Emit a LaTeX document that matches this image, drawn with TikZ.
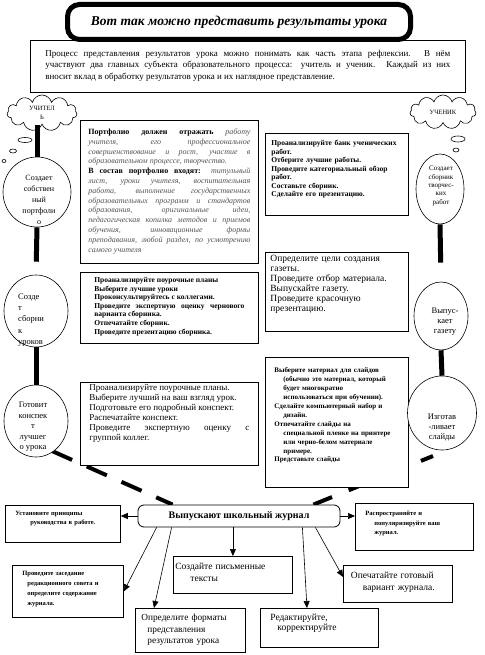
\documentclass[tikz,border=0pt]{standalone}
\usepackage{fontspec}
\setmainfont{Liberation Serif}
\usepackage{tikz}
\usetikzlibrary{shapes.geometric,shapes.symbols,arrows.meta,backgrounds,calc}
\definecolor{portgray}{HTML}{555555}
\setlength\parindent{0pt}
\tolerance=9999 \hbadness=10000 \hfuzz=30pt
\newcommand\fsz[2]{\fontsize{#1}{#2}\selectfont}
\newcommand\hind{\hspace*{9pt}}
\tikzset{
  tbox/.style={draw, line width=0.8pt, fill=white, anchor=north west, inner ysep=0pt},
  circ/.style={draw, ellipse, line width=0.6pt, fill=white, inner sep=0pt},
  ctxt/.style={align=center, inner sep=0pt},
  puff/.style={draw, ellipse, line width=0.6pt, inner sep=0pt},
  thinkcloud/.style={draw, cloud, cloud puffs=11, cloud ignores aspect, line width=0.6pt,
    fill=white, inner sep=0pt, align=center, font=\fsz{6.5}{8.5}},
  thickbar/.style={line width=5pt},
  gapline/.style={line width=4pt},
  arr/.style={line width=0.6pt, -{Triangle[length=7pt,width=6pt]}},
}

\begin{document}
\begin{tikzpicture}[x=1pt,y=-1pt]
\useasboundingbox (0,0) rectangle (484,655);

% heading
\node[tbox, text width=405pt, inner xsep=15pt, text height=16pt, text depth=36pt,
  align=justify, font=\fsz{9}{11.5}] (intro) at (30,40)
  {Процесс представления результатов урока можно понимать как часть этапа рефлексии. В нём\linebreak
   участвуют два главных субъекта образовательного процесса: учитель и ученик. Каждый из них\linebreak
   вносит вклад в обработку результатов урока и их наглядное представление.};
\node[draw, line width=5pt, rounded corners=12pt, fill=white, minimum width=343pt,
  minimum height=35pt, font=\bfseries\itshape\fsz{13.5}{15}] (title) at (239,22)
  {Вот так можно представить результаты урока};

% teacher side
\node[tbox, text width=162pt, inner xsep=8pt, text height=14pt, text depth=129pt,
  align=justify, font=\fsz{8}{9.8}] (port) at (80,120)
  {\textbf{Портфолио должен отражать} {\itshape\color{portgray}работу\linebreak
   учителя, его профессиональное\linebreak совершенствование и рост, участие в\linebreak
   образовательном процессе, творчество.}\par
   \textbf{В состав портфолио входят:} {\itshape\color{portgray}титульный\linebreak
   лист, уроки учителя, воспитательная\linebreak работа, выполнение государственных\linebreak
   образовательных программ и стандартов\linebreak образования, оригинальные идеи,\linebreak
   педагогическая копилка методов и приемов\linebreak обучения, инновационные формы\linebreak
   преподавания, любой раздел, по усмотрению\linebreak самого учителя}};
\node[tbox, text width=150pt, inner xsep=14pt, text height=10pt, text depth=61pt,
  align=justify, font=\bfseries\fsz{7.5}{8.6}] (plan) at (80,272)
  {Проанализируйте поурочные планы\par Выберите лучшие уроки\par
   Проконсультируйтесь с коллегами.\par Проведите экспертную оценку чернового\linebreak
   варианта сборника.\par Отпечатайте сборник.\par Проведите презентацию сборника.};
\node[tbox, text width=160pt, inner xsep=9pt, text height=8pt, text depth=75pt,
  align=justify, font=\fsz{9}{10}] (best) at (80,382)
  {Проанализируйте поурочные планы.\par Выберите лучший на ваш взгляд урок.\par
   Подготовьте его подробный конспект.\par Распечатайте конспект.\par
   Проведите экспертную оценку с\linebreak группой коллег.};

\node[thinkcloud, minimum width=70pt, minimum height=36pt] (teacher) at (42,113) {УЧИТЕЛ\\Ь};
\node[puff, minimum width=14pt, minimum height=5pt] (lb1) at (25,140) {};
\node[puff, minimum width=7pt, minimum height=4pt] (lb2) at (13,151) {};
\node[puff, minimum width=4pt, minimum height=3pt] (lb3) at (4,161) {};

\node[circ, minimum width=68pt, minimum height=70pt] (lc1) at (37,192) {};
\node[ctxt, font=\fsz{8}{11}] (lc1t) at (39,200) {Создает\\собствен\\ный\\портфоли\\о};
\node[circ, minimum width=64pt, minimum height=72pt] (lc2) at (36,311) {};
\node[ctxt, align=left, anchor=west, font=\fsz{8.5}{11.2}] (lc2t) at (18,320)
  {Созде\\т\\сборни\\к\\уроков};
\node[circ, minimum width=64pt, minimum height=72pt] (lc3) at (36,421) {};
\node[ctxt, font=\fsz{8.5}{10.5}] (lc3t) at (33,427) {Готовит\\конспек\\т\\лучшег\\о урока};

% pupil side
\node[tbox, text width=131pt, inner xsep=6pt, text height=12.5pt, text depth=69.5pt,
  align=left, font=\bfseries\fsz{7.5}{8.5}] (bank) at (265,133)
  {Проанализируйте банк ученических\\ работ.\\ Отберите лучшие работы.\\
   Проведите категориальный обзор\\ работ.\\ Составьте сборник.\\ Сделайте его презентацию.};
\node[tbox, text width=133pt, inner xsep=5pt, text height=9pt, text depth=70pt,
  align=left, font=\fsz{9.5}{10}] (paper) at (265,252)
  {Определите цели создания\\ газеты.\\ Проведите отбор материала.\\ Выпускайте газету.\\
   Проведите красочную\\ презентацию.};
\node[tbox, text width=125pt, inner xsep=9pt, text height=15.5pt, text depth=114.5pt,
  align=left, font=\bfseries\fsz{7}{8.9}] (slides) at (265,357)
  {Выберите материал для слайдов\\ \hind(обычно это материал, который\\ \hind будет многократно\\
   \hind использоваться при обучении).\\ Сделайте компьютерный набор и\\ \hind дизайн.\\
   Отпечатайте слайды на\\ \hind специальной пленке на принтере\\ \hind или черно-белом материале\\
   \hind примере.\\ Представьте слайды};

\node[thinkcloud, minimum width=66pt, minimum height=34pt] (pupil) at (443,112) {УЧЕНИК};
\node[puff, minimum width=14pt, minimum height=6pt] (rb1) at (458,139) {};
\node[puff, minimum width=6pt, minimum height=4pt] (rb2) at (456,150) {};

\node[circ, minimum width=48pt, minimum height=70pt] (rc1) at (440,189) {};
\node[ctxt, font=\fsz{7}{8.3}] (rc1t) at (441,186) {Создает\\сборник\\творчес-\\ких\\работ};
\node[circ, minimum width=54pt, minimum height=68pt] (rc2) at (441,316) {};
\node[ctxt, font=\fsz{8.5}{10}] (rc2t) at (445,322) {Выпус-\\кает\\газету};
\node[circ, minimum width=69pt, minimum height=74pt] (rc3) at (442,413) {};
\node[ctxt, font=\fsz{8.5}{10}] (rc3t) at (442,428) {Изготав\\-ливает\\слайды};

\draw[thickbar] (lc1.north |- teacher.south) -- (lc1.north);
\draw[thickbar, shorten >=13pt] (lc1.south) -- (lc2.north);
\draw[thickbar] (lc2.south) -- (lc3.north);
\draw[thickbar, shorten >=19pt] (rc1.south) -- (rc2.north);
\draw[thickbar] (rc2.south) -- (rc3.north);

% journal
\node[draw, line width=0.8pt, rounded corners=6pt, fill=white, minimum width=202pt,
  minimum height=22pt, font=\bfseries\fsz{10}{12}] (journal) at (239,516)
  {Выпускают школьный журнал};
\node[tbox, text width=95pt, inner xsep=10pt, text height=10pt, text depth=27pt,
  align=left, font=\bfseries\fsz{6.5}{9}] (rules) at (5,505)
  {Установите принципы\\ \hspace*{15pt}руководства в работе.};
\node[tbox, text width=98pt, inner xsep=10pt, text height=12.5pt, text depth=34.5pt,
  align=left, font=\bfseries\fsz{6.5}{9.5}] (spread) at (355,503)
  {Распространяйте и\\ \hind популяризируйте ваш\\ \hind журнал.};
\node[tbox, text width=91pt, inner xsep=10pt, text height=10.5pt, text depth=41.5pt,
  align=left, font=\bfseries\fsz{6.5}{9.7}] (meeting) at (12,565)
  {Проведите заседание\\ \hspace*{5pt}редакционного совета и\\ \hspace*{5pt}определите содержание\\
   \hspace*{5pt}журнала.};
\node[tbox, text width=115pt, inner xsep=2pt, text height=13.5pt, text depth=23.5pt,
  align=left, font=\fsz{9.5}{12}] (writing) at (173,556)
  {Создайте письменные\\ \hspace*{15pt}тексты};
\node[tbox, text width=98pt, inner xsep=6pt, text height=12.5pt, text depth=31.5pt,
  align=left, font=\fsz{9.3}{11.5}] (formats) at (135,608)
  {Определите форматы\\ \hspace*{6pt}представления\\ \hspace*{6pt}результатов урока};
\node[tbox, text width=98pt, inner xsep=10pt, text height=12.5pt, text depth=26.5pt,
  align=left, font=\fsz{9.5}{10}] (edit) at (260,608)
  {Редактируйте,\\ \hspace*{7pt}корректируйте};
\node[tbox, text width=94pt, inner xsep=7.5pt, text height=13.5pt, text depth=23.5pt,
  align=left, font=\fsz{9.5}{12}] (print) at (343,565)
  {Опечатайте готовый\\ \hspace*{12pt}вариант журнала.};

\begin{scope}[on background layer]
  \draw[gapline, dash pattern=on 22pt off 16pt] ($(lc3.center)+(16,30)$) -- ($(journal.north west)+(35,0)$);
  \draw[gapline, dash pattern=on 21pt off 18pt, dash phase=8pt] ($(rc3.center)+(-9,43)$) -- ($(journal.north east)+(-27,0)$);
\end{scope}

\draw[arr] (journal.west) -- (journal.west -| rules.east);
\draw[arr] (journal.east) -- (journal.east -| spread.west);
\draw[arr] ($(journal.south west)+(19,0)$) -- (meeting.east);
\draw[arr] ($(journal.south west)+(34,0)$) -- ($(formats.north west)+(19,0)$);
\draw[arr] (journal.south -| writing.north) -- (writing.north);
\draw[arr] ($(journal.south east)+(-38,0)$) -- ($(edit.north west)+(47,0)$);
\draw[arr] ($(journal.south east)+(-25,0)$) -- ($(print.north west)+(0,12)$);
\end{tikzpicture}
\end{document}
